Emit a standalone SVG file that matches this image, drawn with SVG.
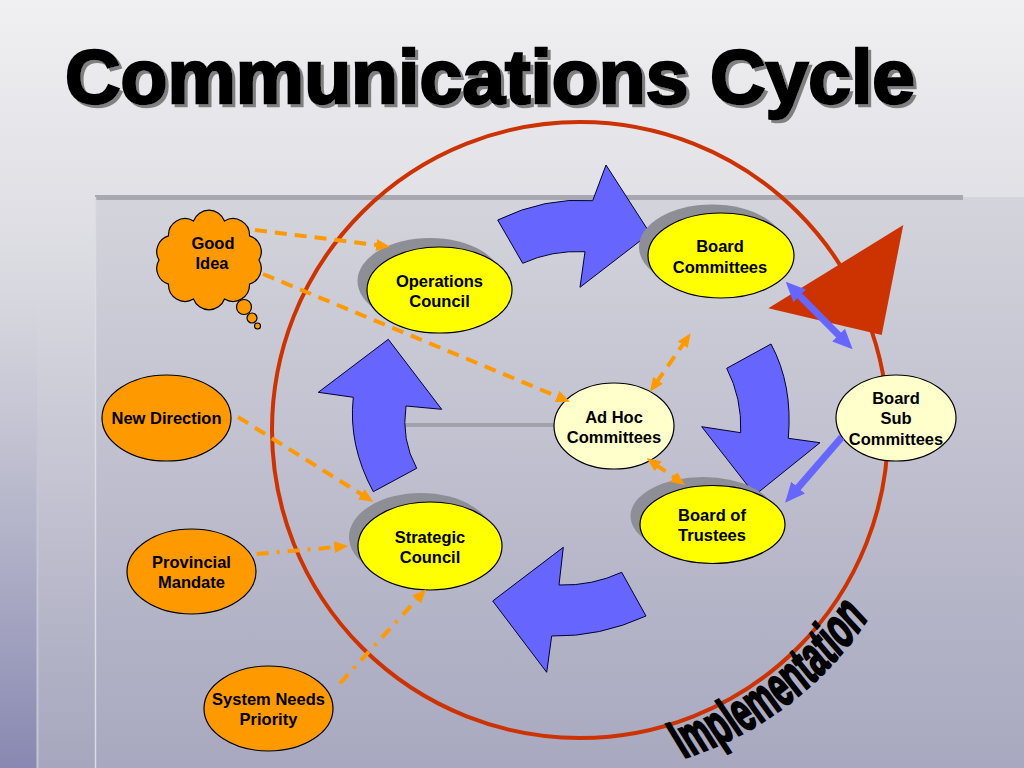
<svg xmlns="http://www.w3.org/2000/svg" width="1024" height="768" viewBox="0 0 1024 768">
<defs>
<linearGradient id="bg" x1="0" y1="0" x2="0" y2="1">
<stop offset="0" stop-color="#f0f0f2"/>
<stop offset="0.3" stop-color="#dedee4"/>
<stop offset="1" stop-color="#a6a6be"/>
</linearGradient>
<linearGradient id="panel" x1="0" y1="0" x2="0" y2="1">
<stop offset="0" stop-color="#d4d4dc"/>
<stop offset="1" stop-color="#a8a8c0"/>
</linearGradient>
<linearGradient id="leftstrip" x1="0" y1="0" x2="0" y2="1">
<stop offset="0" stop-color="#c4c4d4" stop-opacity="0"/>
<stop offset="1" stop-color="#8888b2"/>
</linearGradient>
<filter id="tshadow" x="-5%" y="-20%" width="110%" height="140%">
<feOffset in="SourceAlpha" dx="3" dy="3" result="off"/>
<feFlood flood-color="#808080"/>
<feComposite in2="off" operator="in" result="sh"/>
<feMerge><feMergeNode in="sh"/><feMergeNode in="SourceGraphic"/></feMerge>
</filter>
<marker id="oh" viewBox="0 0 14 12" refX="3" refY="6" markerWidth="14" markerHeight="12" markerUnits="userSpaceOnUse" orient="auto-start-reverse">
<path d="M0,0 L14,6 L0,12 Z" fill="#ff9900"/>
</marker>
<marker id="bh" viewBox="0 0 20 18" refX="4" refY="9" markerWidth="20" markerHeight="18" markerUnits="userSpaceOnUse" orient="auto-start-reverse">
<path d="M0,0 L20,9 L0,18 Z" fill="#6666ff"/>
</marker>
<style>
.lbl{font-family:"Liberation Sans",Arial,sans-serif;font-weight:bold;font-size:16.5px;fill:#000;text-anchor:middle}
.yel{fill:#ffff00;stroke:#000;stroke-width:1.2}
.pale{fill:#ffffcc;stroke:#000;stroke-width:1.2}
.org{fill:#ff9900;stroke:#000;stroke-width:1.2}
.shd{fill:#8e8e96}
.cyc{fill:#6666ff;stroke:#000033;stroke-width:1}
.dash{fill:none;stroke:#ff9900;stroke-width:4;stroke-dasharray:12 8}
.dashdot{fill:none;stroke:#ff9900;stroke-width:4;stroke-dasharray:12 8 3 8}
.blue{fill:none;stroke:#6666ff;stroke-width:7}
</style>
</defs>

<g id="background">
<rect x="0" y="0" width="1024" height="768" fill="url(#bg)"/>
<rect x="0" y="300" width="37" height="468" fill="url(#leftstrip)"/>
<rect x="95" y="197" width="929" height="571" fill="url(#panel)"/>
<rect x="95" y="195" width="868" height="5" fill="#a8a8b0"/>
<line x1="95.5" y1="197" x2="95.5" y2="768" stroke="#dcdce4" stroke-width="1.5"/>
<line x1="37.5" y1="425" x2="37.5" y2="768" stroke="#c6c6d6" stroke-width="2"/>
<line x1="400" y1="425" x2="555" y2="425" stroke="#a2a2ac" stroke-width="4"/>
</g>

<g id="title" filter="url(#tshadow)">
<text x="65" y="103" textLength="850" lengthAdjust="spacingAndGlyphs" font-family="Liberation Sans, Arial, sans-serif" font-weight="bold" font-size="76" fill="#000" stroke="#000" stroke-width="2.5">Communications Cycle</text>
</g>

<g id="cycle-ring">
<circle cx="580" cy="430" r="308" fill="none" stroke="#cc3300" stroke-width="4"/>
</g>

<g id="implementation-label" transform="translate(580,430) rotate(-37.25) scale(0.55,1)">
<path id="implArc" d="M -211.3 323.8 A 625.5 344 0 0 0 211.3 323.8" fill="none"/>
<text font-family="Liberation Sans, Arial, sans-serif" font-weight="bold" font-size="57" fill="#000" stroke="#000" stroke-width="2.5"><textPath href="#implArc" textLength="422" lengthAdjust="spacingAndGlyphs">Implementation</textPath></text>
</g>

<g id="cycle-arrows">
<path class="cyc" d="M 497.7 220 Q 545 197 592.7 200.7 L 606 165 L 650 233.3 L 580 287.3 L 585 251.7 Q 552 250 522.7 263.3 Z"/>
<path class="cyc" d="M 726.7 368.3 L 771 344 Q 793 385 788.3 438.3 L 820 442.7 L 755 495 L 701.7 426.7 L 740.7 432.7 Q 742 398 726.7 368.3 Z"/>
<path class="cyc" d="M 621.7 572.3 L 646 616 Q 600 637 551.7 636 L 546.7 672.3 L 492.7 601 L 563.3 547.3 L 559 585 Q 592 586 621.7 572.3 Z"/>
<path class="cyc" d="M 388.3 339.3 L 441.7 409.3 L 406 406 Q 401 440 416.7 468.3 L 373.3 491.7 Q 348 445 353.3 397.3 L 318.3 392.3 Z"/>
</g>

<g id="feedback-triangle">
<polygon points="768.3,308.3 903.3,225 881.7,335" fill="#cc3300"/>
</g>

<g id="good-idea">
<path class="org" d="M 259 260 A 16.5 16.5 0 0 1 249.5 284.1 A 16.5 16.5 0 0 1 224.5 299 A 16.5 16.5 0 0 1 193.5 299 A 16.5 16.5 0 0 1 168.5 284.1 A 16.5 16.5 0 0 1 159 260 A 16.5 16.5 0 0 1 168.5 235.9 A 16.5 16.5 0 0 1 193.5 221 A 16.5 16.5 0 0 1 224.5 221 A 16.5 16.5 0 0 1 249.5 235.9 A 16.5 16.5 0 0 1 259 260 Z"/>
<circle class="org" cx="244" cy="307" r="7.5"/>
<circle class="org" cx="252" cy="318" r="5"/>
<circle class="org" cx="257.5" cy="326" r="3"/>
<text class="lbl" font-size="16"><tspan x="213" y="249">Good</tspan><tspan x="212" y="269">Idea</tspan></text>
</g>

<g id="operations-council">
<ellipse class="shd" cx="430" cy="281" rx="72.5" ry="43"/>
<ellipse class="yel" cx="439.5" cy="290" rx="72.5" ry="43"/>
<text class="lbl"><tspan x="439.5" y="287">Operations</tspan><tspan x="439.5" y="307">Council</tspan></text>
</g>

<g id="board-committees">
<ellipse class="shd" cx="712" cy="247" rx="73" ry="42.5"/>
<ellipse class="yel" cx="721" cy="255.5" rx="73" ry="42.5"/>
<text class="lbl"><tspan x="720" y="252">Board</tspan><tspan x="720" y="273">Committees</tspan></text>
</g>

<g id="board-of-trustees">
<ellipse class="shd" cx="703" cy="516" rx="72.5" ry="39"/>
<ellipse class="yel" cx="712.5" cy="524.5" rx="72.5" ry="39"/>
<text class="lbl"><tspan x="712" y="521">Board of</tspan><tspan x="712" y="541">Trustees</tspan></text>
</g>

<g id="strategic-council">
<ellipse class="shd" cx="421" cy="537" rx="72" ry="44"/>
<ellipse class="yel" cx="430" cy="546" rx="72" ry="44"/>
<text class="lbl"><tspan x="430" y="543">Strategic</tspan><tspan x="430" y="563">Council</tspan></text>
</g>

<g id="ad-hoc-committees">
<ellipse class="pale" cx="614" cy="426" rx="60" ry="43"/>
<text class="lbl"><tspan x="614" y="423">Ad Hoc</tspan><tspan x="614" y="443">Committees</tspan></text>
</g>

<g id="board-sub-committees">
<ellipse class="pale" cx="896" cy="418" rx="60" ry="43"/>
<text class="lbl"><tspan x="896" y="404">Board</tspan><tspan x="896" y="424">Sub</tspan><tspan x="896" y="445">Committees</tspan></text>
</g>

<g id="new-direction">
<ellipse class="org" cx="166.5" cy="418" rx="64.5" ry="43"/>
<text class="lbl" x="166.5" y="424">New Direction</text>
</g>

<g id="provincial-mandate">
<ellipse class="org" cx="191.5" cy="571.5" rx="64.5" ry="42.5"/>
<text class="lbl"><tspan x="191.5" y="568">Provincial</tspan><tspan x="191.5" y="588">Mandate</tspan></text>
</g>

<g id="system-needs-priority">
<ellipse class="org" cx="268.5" cy="708.5" rx="64.5" ry="42.5"/>
<text class="lbl"><tspan x="268.5" y="705">System Needs</tspan><tspan x="268.5" y="725">Priority</tspan></text>
</g>

<g id="connectors">
<line class="dash" x1="255" y1="230" x2="379.1" y2="245.3" marker-end="url(#oh)"/>
<line class="dash" x1="263" y1="274" x2="559.8" y2="397.5" marker-end="url(#oh)"/>
<line class="dash" x1="238" y1="417" x2="364" y2="495.9" marker-end="url(#oh)"/>
<line class="dashdot" x1="256.7" y1="554" x2="337.3" y2="547" marker-end="url(#oh)"/>
<line class="dashdot" x1="340" y1="683.3" x2="418.6" y2="597.4" marker-end="url(#oh)"/>
<line class="dash" x1="656.3" y1="382.7" x2="684.4" y2="342.3" marker-start="url(#oh)" marker-end="url(#oh)"/>
<line class="dash" x1="655.7" y1="464.6" x2="676" y2="478.7" marker-start="url(#oh)" marker-end="url(#oh)"/>
<line class="blue" x1="797" y1="293.1" x2="841.4" y2="337.9" marker-start="url(#bh)" marker-end="url(#bh)"/>
<line class="blue" x1="841.7" y1="437.3" x2="795.5" y2="490.6" marker-end="url(#bh)"/>
</g>
</svg>
